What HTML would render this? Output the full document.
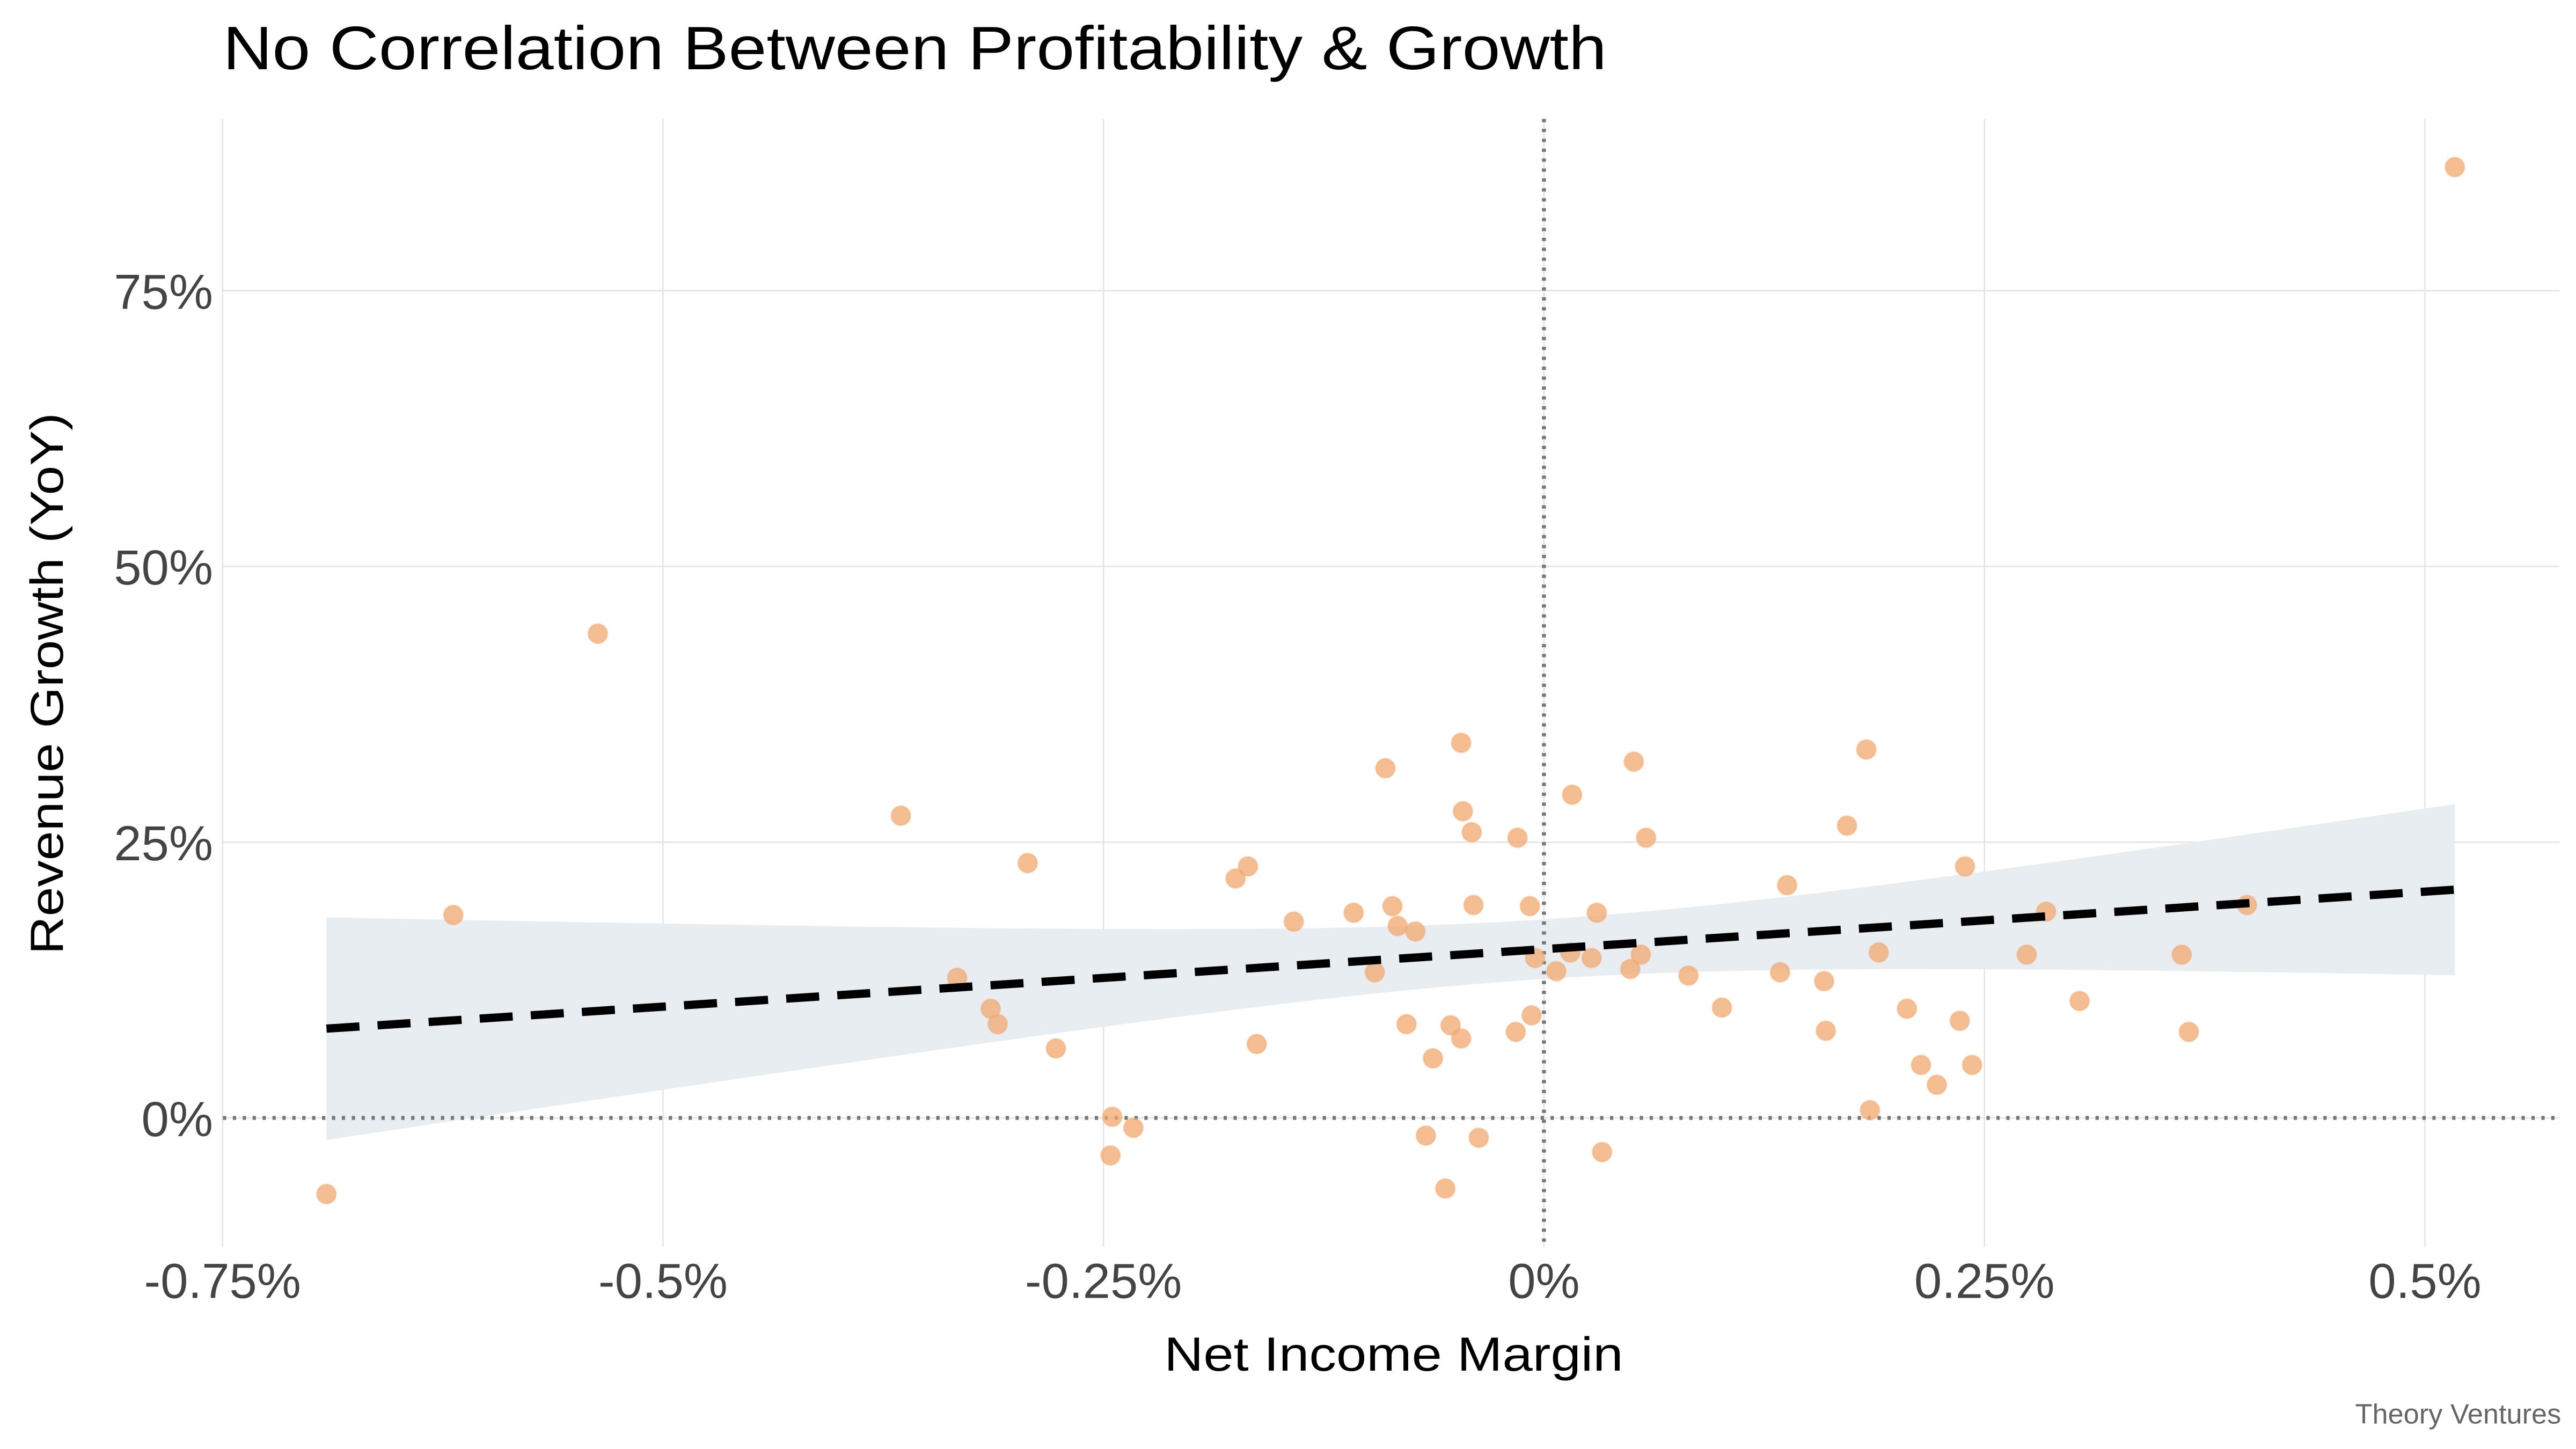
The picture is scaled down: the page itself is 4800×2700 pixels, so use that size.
<!DOCTYPE html>
<html><head><meta charset="utf-8"><style>
html,body{margin:0;padding:0;background:#fff;}
svg{display:block;font-family:"Liberation Sans",sans-serif;}
</style></head><body>
<svg id="chart" width="4800" height="2700" viewBox="0 0 1560 877.5" preserveAspectRatio="none" xmlns="http://www.w3.org/2000/svg">
<rect width="1560" height="877.5" fill="#fff"/>
<text x="135" y="42" font-size="37" textLength="838" lengthAdjust="spacingAndGlyphs" fill="#000">No Correlation Between Profitability &amp; Growth</text>
<g id="grid"></g>
<g id="band"></g>
<g id="refs"></g>
<g id="points"></g>
<g id="trend"></g>
<g id="ticks"></g>
<text transform="translate(38,414) rotate(-90)" text-anchor="middle" font-size="28" textLength="328" lengthAdjust="spacingAndGlyphs" fill="#000">Revenue Growth (YoY)</text>
<text x="844" y="830" text-anchor="middle" font-size="29" textLength="278" lengthAdjust="spacingAndGlyphs" fill="#000">Net Income Margin</text>
<text x="1551" y="862" text-anchor="end" font-size="17" fill="#666">Theory Ventures</text>
</svg>
<script>
const xTicks=[-0.75,-0.5,-0.25,0,0.25,0.5];
const xTickLabels=["-0.75%","-0.5%","-0.25%","0%","0.25%","0.5%"];
const yTicks=[0,25,50,75];
const yTickLabels=["0%","25%","50%","75%"];
const margins=[-0.691,-0.619,-0.537,-0.365,-0.333,-0.314,-0.310,-0.293,-0.277,-0.246,-0.245,-0.233,-0.175,-0.168,-0.163,-0.142,-0.108,-0.096,-0.090,-0.086,-0.083,-0.078,-0.073,-0.067,-0.063,-0.056,-0.053,-0.047,-0.047,-0.046,-0.041,-0.040,-0.037,-0.016,-0.015,-0.008,-0.007,-0.005,0.007,0.015,0.016,0.027,0.030,0.033,0.049,0.051,0.055,0.058,0.082,0.101,0.134,0.138,0.159,0.160,0.172,0.183,0.185,0.190,0.206,0.214,0.223,0.236,0.239,0.243,0.274,0.285,0.304,0.362,0.366,0.399,0.517];
const growth=[-6.9,18.4,43.9,27.4,12.7,9.9,8.5,23.1,6.3,-3.4,0.1,-0.9,21.7,22.8,6.7,17.8,18.6,13.2,31.7,19.2,17.4,8.5,16.9,-1.6,5.4,-6.4,8.4,34.0,7.2,27.8,25.9,19.3,-1.8,7.8,25.4,19.2,9.3,14.5,13.3,15.0,29.3,14.5,18.6,-3.1,13.5,32.3,14.8,25.4,12.9,10.0,13.2,21.1,12.4,7.9,26.5,33.4,0.7,15.0,9.9,4.8,3.0,8.8,22.8,4.8,14.8,18.7,10.6,14.8,7.8,19.3,86.2];
const trendIntercept=[15.3];
const trendSlope=[10.43];
const bandMinHalf=[2.7];
const bandCurv=[198];
const NS="http://www.w3.org/2000/svg";
const X=v=>935+v*1067, Y=v=>677-v*6.68;
const L=135,R=1550,T=72,B=755;
function mk(tag,attrs,parent){const e=document.createElementNS(NS,tag);for(const k in attrs)e.setAttribute(k,attrs[k]);parent.appendChild(e);return e;}
const g=document.getElementById('grid');
xTicks.forEach(t=>{const l=mk('line',{x1:X(t),x2:X(t),y1:T,y2:B,stroke:'#e3e3e3','stroke-width':0.8},g);

});
yTicks.forEach(t=>{const l=mk('line',{x1:L,x2:R,y1:Y(t),y2:Y(t),stroke:'#e3e3e3','stroke-width':0.8},g);

});
const tk=document.getElementById('ticks');
xTicks.forEach((t,i)=>{const e=mk('text',{x:X(t),y:786,'text-anchor':'middle','font-size':30,fill:'#444'},tk);e.textContent=xTickLabels[i];

});
yTicks.forEach((t,i)=>{const e=mk('text',{x:129,y:Y(t)+11,'text-anchor':'end','font-size':30,fill:'#444'},tk);e.textContent=yTickLabels[i];

});
const xmin=Math.min(...margins),xmax=Math.max(...margins);
const up=[],dn=[];
for(let i=0;i<=60;i++){const x=xmin+(xmax-xmin)*i/60;const m=trendIntercept[0]+trendSlope[0]*x;const h=Math.sqrt(bandMinHalf[0]**2+bandCurv[0]*x*x);
up.push(X(x)+','+Y(m+h));dn.unshift(X(x)+','+Y(m-h));}
const bp=mk('polygon',{points:up.concat(dn).join(' '),fill:'#e8edf2'},document.getElementById('band'));


const rf=document.getElementById('refs');
const vl=mk('line',{x1:X(0),x2:X(0),y1:T,y2:B,stroke:'#777','stroke-width':2.4,'stroke-dasharray':'2 4'},rf);


const hl=mk('line',{x1:L,x2:R,y1:Y(0),y2:Y(0),stroke:'#777','stroke-width':2.4,'stroke-dasharray':'2 4'},rf);


const pg=document.getElementById('points');
margins.forEach((m,i)=>{const c=mk('circle',{cx:X(m),cy:Y(growth[i]),r:5.8,fill:'#f2a86e','fill-opacity':0.75,stroke:'#f2a86e','stroke-opacity':0.4,'stroke-width':1},pg);

});
const tl=mk('line',{x1:X(xmin),y1:Y(trendIntercept[0]+trendSlope[0]*xmin),x2:X(xmax),y2:Y(trendIntercept[0]+trendSlope[0]*xmax),stroke:'#000','stroke-width':5,'stroke-dasharray':'20 11'},document.getElementById('trend'));


</script>
</body></html>
